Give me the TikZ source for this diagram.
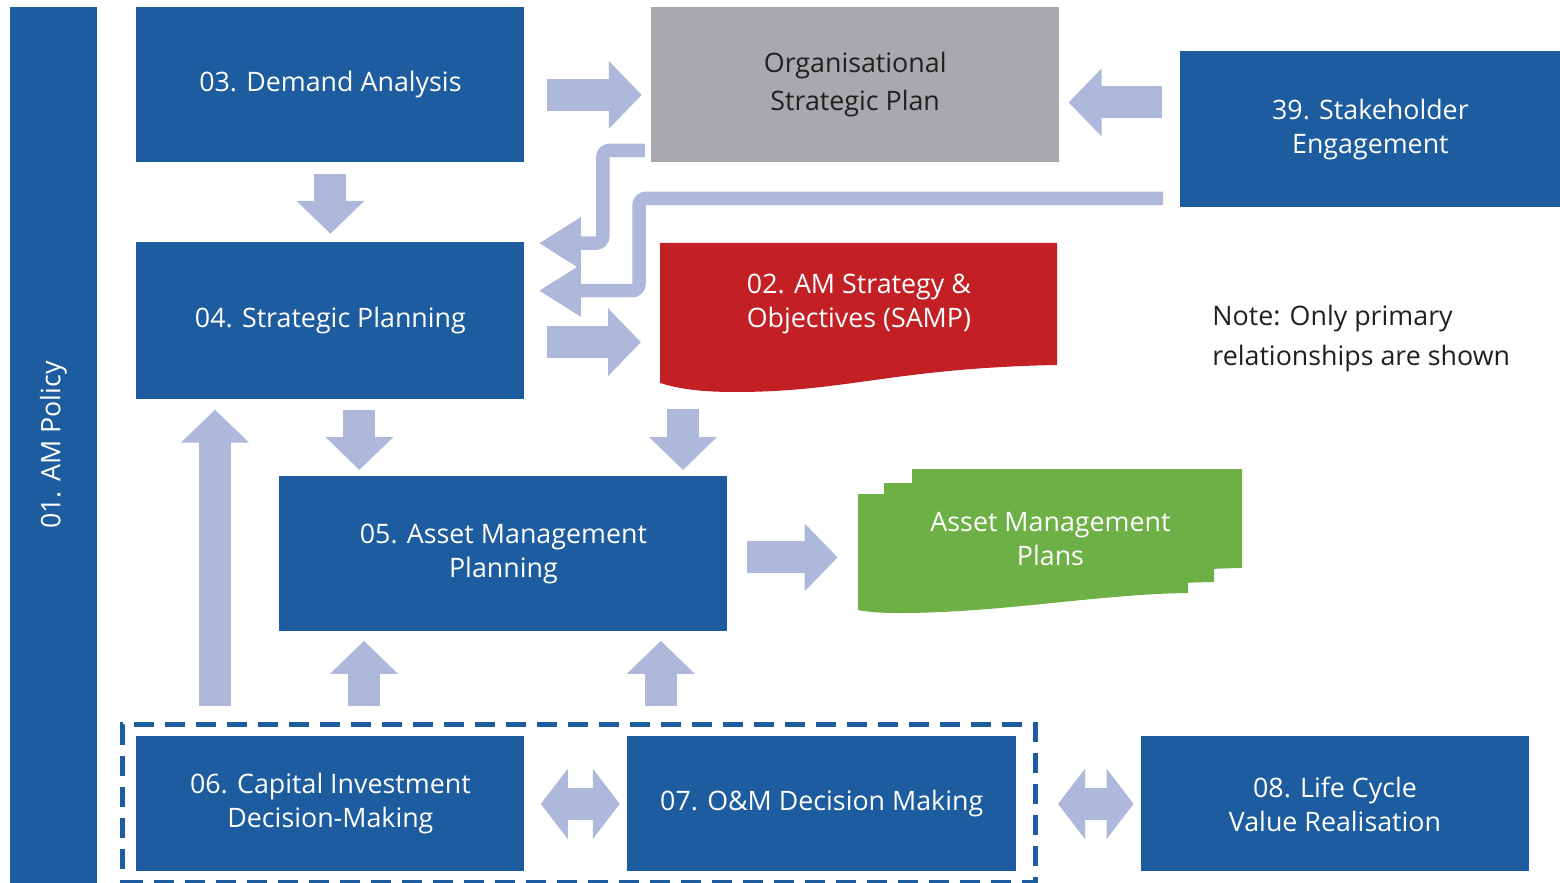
\documentclass[tikz,border=0pt]{standalone}
\usepackage{fontspec}
\setmainfont{Open Sans}
\usepackage{xcolor}
\usepackage{tikz}
\usetikzlibrary{positioning, arrows.meta, backgrounds}

\definecolor{amblue}{HTML}{1D5C9E}
\definecolor{amgrey}{HTML}{A7A9AC}
\definecolor{amred}{HTML}{C32026}
\definecolor{amgreen}{HTML}{6DB045}
\definecolor{amflow}{HTML}{AEB8DA}
\definecolor{amtext}{HTML}{231F20}

\begin{document}
\begin{tikzpicture}
		\tikzset{
			box/.style={rectangle, fill=amblue, text=white, align=center, inner sep=0pt,
			font=\fontsize{13.4}{17}\selectfont, minimum width=194pt, minimum height=77.5pt},
			plainbox/.style={rectangle, text=white, align=center, inner sep=0pt,
			font=\fontsize{13.4}{17}\selectfont},
			groupbox/.style={rectangle, draw=amblue, line width=2.5pt, dash pattern=on 10pt off 5.5pt},
			fatarrow/.style={draw=amflow, line width=16pt, -{Triangle[length=16.5pt, width=33pt]}},
			dblarrow/.style={draw=amflow, line width=16pt,
			{Triangle[length=13.5pt, width=34.5pt]}-{Triangle[length=13.5pt, width=34.5pt]}},
			elbow/.style={draw=amflow, line width=6.75pt, rounded corners=3.5pt,
			-{Triangle[length=21pt, width=24.5pt]}}
		}
		\useasboundingbox (0,0) rectangle (780pt,-441.5pt);

		% boxes
		\node[box, rotate=90, minimum width=438pt, minimum height=43.5pt] (policy) at (26.75pt,-222.5pt) {01. AM Policy};
		\node[box, anchor=north west] (demand) at (68pt,-3.5pt) {03. Demand Analysis};
		\node[box, fill=amgrey, text=amtext, minimum width=204pt, font=\fontsize{13.4}{19}\selectfont,
			right=63pt of demand] (org) {Organisational\\Strategic Plan};
		\node[box, minimum width=190pt, minimum height=78pt, anchor=north west] (stake) at (590pt,-25.5pt) {39. Stakeholder\\Engagement};
		\node[box, minimum height=78.5pt, below=39.5pt of demand] (strat) {04. Strategic Planning};
		\node[plainbox, minimum width=198.5pt, minimum height=61pt, anchor=north west] (samp) at (330pt,-121.5pt) {02. AM Strategy \&\\Objectives (SAMP)};
		\node[box, minimum width=224pt, anchor=north west] (amp) at (139.5pt,-238pt) {05. Asset Management\\Planning};
		\node[plainbox, minimum width=192.5pt, minimum height=49.5pt] (amplans) at (525.25pt,-269.5pt) {Asset Management\\Plans};
		\node[box, minimum height=67.5pt, anchor=north west] (capex) at (68pt,-368pt) {06. Capital Investment\\Decision-Making};
		\node[box, minimum width=194.5pt, minimum height=67.5pt, right=51pt of capex] (om) {07. O\&M Decision Making};
		\node[box, minimum height=67.5pt, right=62pt of om] (lifecycle) {08. Life Cycle\\Value Realisation};
		\node[groupbox, minimum width=456.5pt, minimum height=79pt, anchor=north west] (decisions) at (60pt,-361pt) {};
		\node[anchor=west, align=left, text=amtext, inner sep=0pt, font=\fontsize{13.4}{20}\selectfont] (note)
			at (606pt,-169.5pt) {Note: Only primary\\relationships are shown};

		% document shapes behind their texts
		\begin{pgfonlayer}{background}
			\fill[amred] (samp.north west) -- (528.5pt,-121.5pt) -- (528.5pt,-182.5pt)
				.. controls (448pt,-184pt) and (423pt,-196pt) .. (368pt,-196pt)
				.. controls (350pt,-196pt) and (340pt,-194.5pt) .. (330pt,-191.5pt) -- cycle;
			\foreach \dx/\dy in {27/12.5, 13/5.5, 0/0}
				\fill[amgreen, shift={(\dx pt,\dy pt)}] (429pt,-247pt) -- (594pt,-247pt) -- (594pt,-296.5pt)
					.. controls (550pt,-297pt) and (500pt,-306.5pt) .. (450pt,-306.5pt)
					.. controls (440pt,-306.5pt) and (434pt,-306pt) .. (429pt,-305pt) -- cycle;
		\end{pgfonlayer}

		% flows
		\draw[fatarrow, shorten <=11pt, shorten >=4.5pt] ([yshift=-5pt]demand.east) -- ([yshift=-5pt]org.west);
		\draw[fatarrow, shorten <=9pt, shorten >=4.5pt] ([yshift=13.5pt]stake.west) -- ([yshift=-8.75pt]org.east);
		\draw[fatarrow, shorten <=5.5pt, shorten >=4pt] (demand.south) -- (strat.north);
		\draw[fatarrow, shorten <=11pt, shorten >=9.5pt] ([yshift=-10.75pt]strat.east) -- ([yshift=-10.75pt]strat.east -| samp.west);
		\draw[elbow] ([xshift=-3pt,yshift=-32.75pt]org.west) -- ++(-21pt,0) |- ([xshift=7pt,yshift=38.75pt]strat.east);
		\draw[elbow] ([xshift=-8.5pt,yshift=-34.5pt]stake.west) -- ++(-262pt,0) |- ([xshift=7pt,yshift=15pt]strat.east);
		\draw[fatarrow, shorten <=5pt, shorten >=3pt] ([xshift=14.5pt]strat.south) -- ([xshift=14.5pt]strat.south |- amp.north);
		\draw[fatarrow, shorten <=21.5pt, shorten >=3pt] ([xshift=11.5pt]samp.south west) -- ([xshift=11.5pt]samp.south west |- amp.north);
		\draw[fatarrow, shorten <=9.5pt, shorten >=10pt] ([yshift=-1.75pt]amp.east) -- ([yshift=-1.75pt]amp.east -| amplans.west);
		\draw[fatarrow, shorten <=8pt, shorten >=5pt] ([xshift=39.5pt]capex.north west |- decisions.north) -- ([xshift=39.5pt]capex.north west |- strat.south);
		\draw[fatarrow, shorten <=8pt, shorten >=4.5pt] ([xshift=114pt]capex.north west |- decisions.north) -- ([xshift=114pt]capex.north west |- amp.south);
		\draw[fatarrow, shorten <=8pt, shorten >=4.5pt] ([xshift=17pt]om.north west |- decisions.north) -- ([xshift=17pt]om.north west |- amp.south);
		\draw[dblarrow, shorten <=8pt, shorten >=3.5pt] (capex) -- (om);
		\draw[dblarrow, shorten <=10pt, shorten >=3.5pt] (om.east -| decisions.east) -- (lifecycle.west);

	\end{tikzpicture}
\end{document}
